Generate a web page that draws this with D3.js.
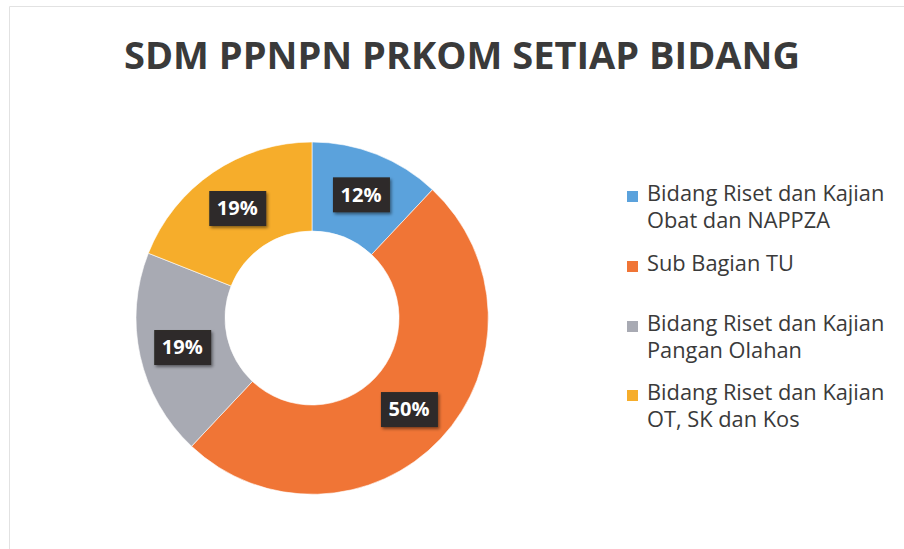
<!DOCTYPE html>
<html>
<head>
<meta charset="utf-8">
<script src="https://cdn.jsdelivr.net/npm/d3@7"></script>
<style>
  body { margin: 0; background: #fff; }
  svg { display: block; }
</style>
</head>
<body>
<div id="chart"></div>
<script>
// data
const categories = [
  "Bidang Riset dan Kajian Obat dan NAPPZA",
  "Sub Bagian TU",
  "Bidang Riset dan Kajian Pangan Olahan",
  "Bidang Riset dan Kajian OT, SK dan Kos"
];
const shares = [12, 50, 19, 19];
const legendLines = [
  ["Bidang Riset dan Kajian", "Obat dan NAPPZA"],
  ["Sub Bagian TU"],
  ["Bidang Riset dan Kajian", "Pangan Olahan"],
  ["Bidang Riset dan Kajian", "OT, SK dan Kos"]
];
const title = "SDM PPNPN PRKOM SETIAP BIDANG";

const width = 904;
const height = 549;
const cx = 312, cy = 318;
const outerR = 176, innerR = 87;
const font = "'Open Sans', 'DejaVu Sans', sans-serif";

const color = d3.scaleOrdinal()
  .domain(categories)
  .range(["#5ba2dc", "#f07536", "#a8aab3", "#f6ad2b"]);

const svg = d3.select("#chart").append("svg")
  .attr("width", width)
  .attr("height", height);

// faint frame from the scan
svg.append("path")
  .attr("d", "M9.5,549 V6.5 H904")
  .attr("fill", "none")
  .attr("stroke", "#e2e2e2");

// title, squeezed to the width it has in the picture
svg.append("text")
  .attr("x", 462)
  .attr("y", 69)
  .attr("text-anchor", "middle")
  .attr("font-family", font)
  .attr("font-weight", "bold")
  .attr("font-size", 38)
  .attr("fill", "#3a3a3a")
  .attr("textLength", 676)
  .attr("lengthAdjust", "spacingAndGlyphs")
  .text(title);

const data = categories.map((c, i) => ({ name: c, value: shares[i] }));

const pie = d3.pie().sort(null).value(d => d.value);
const arc = d3.arc().innerRadius(innerR).outerRadius(outerR);
const labelArc = d3.arc().innerRadius(133).outerRadius(133);

const defs = svg.append("defs");
defs.append("filter")
  .attr("id", "shadow")
  .attr("x", "-30%").attr("y", "-30%")
  .attr("width", "160%").attr("height", "160%")
  .append("feDropShadow")
  .attr("dx", 1.5).attr("dy", 2)
  .attr("stdDeviation", 1.5)
  .attr("flood-color", "#000")
  .attr("flood-opacity", 0.45);

const g = svg.append("g").attr("transform", `translate(${cx},${cy})`);

g.selectAll("path.slice")
  .data(pie(data))
  .join("path")
  .attr("class", "slice")
  .attr("d", arc)
  .attr("fill", d => color(d.data.name))
  .attr("stroke", "#fff")
  .attr("stroke-width", 0.6);

const lab = g.selectAll("g.lab")
  .data(pie(data))
  .join("g")
  .attr("class", "lab")
  .attr("transform", d => `translate(${labelArc.centroid(d)})`);

lab.append("rect")
  .attr("x", -28).attr("y", -17)
  .attr("width", 57).attr("height", 35)
  .attr("fill", "#2e2b29")
  .attr("filter", "url(#shadow)");

lab.append("text")
  .attr("text-anchor", "middle")
  .attr("dy", "0.36em")
  .attr("font-family", font)
  .attr("font-weight", "bold")
  .attr("font-size", 20)
  .attr("fill", "#fff")
  .text(d => d.data.value + "%");

// legend
const legendY = [201, 271, 331, 400];
const legend = svg.append("g");
categories.forEach((c, i) => {
  const row = legend.append("g").attr("transform", `translate(627,${legendY[i]})`);
  row.append("rect")
    .attr("x", 0).attr("y", -10)
    .attr("width", 11).attr("height", 11)
    .attr("fill", color(c));
  legendLines[i].forEach((t, j) => {
    row.append("text")
      .attr("x", 20)
      .attr("y", j * 27)
      .attr("font-family", font)
      .attr("font-size", 21.8)
      .attr("fill", "#3a3a3a")
      .text(t);
  });
});
</script>
</body>
</html>
